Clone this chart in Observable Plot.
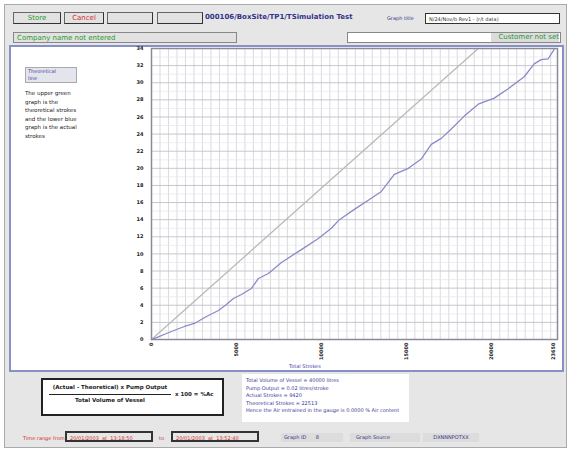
<!DOCTYPE html>
<html><head><meta charset="utf-8">
<script src="https://cdn.jsdelivr.net/npm/d3@7"></script>
<script src="https://cdn.jsdelivr.net/npm/@observablehq/plot@0.6"></script>
<style>
body{margin:0;width:571px;height:450px;background:#fff;font-family:"DejaVu Sans",sans-serif;overflow:hidden}
#win{position:absolute;left:4px;top:4px;width:561px;height:442px;background:#e6e6e6;border:1px solid #aaa}
.abs{position:absolute;box-sizing:border-box;white-space:nowrap}
.btn{background:#e2e2e2;border:1px solid #666;border-right-color:#333;border-bottom-color:#333;font-size:7px;text-align:center;line-height:11px}
.box{border:1px solid #888;font-size:7px;line-height:10px;padding-left:3px}
#main{left:4px;top:40px;width:555px;height:327px;background:#fff;border:2px solid #8890c8}
#chart{position:absolute;left:112px;top:-1px}
#chart svg{overflow:visible}
.info{font-size:5px;line-height:7.5px;color:#3a3a9a}
</style></head><body>
<div id="win">
  <div class="abs btn" style="left:8px;top:7px;width:48px;height:12px;color:#2a9a2a">Store</div>
  <div class="abs btn" style="left:59px;top:7px;width:40px;height:12px;color:#d03030">Cancel</div>
  <div class="abs btn" style="left:102px;top:7px;width:46px;height:12px"></div>
  <div class="abs btn" style="left:152px;top:7px;width:46px;height:12px"></div>
  <div class="abs" style="left:200px;top:8px;font-size:7px;font-weight:bold;color:#33338a">000106/BoxSite/TP1/TSimulation Test</div>
  <div class="abs" style="left:382px;top:10px;font-size:5px;color:#333388">Graph title</div>
  <div class="abs box" style="left:420px;top:8px;width:135px;height:11px;background:#fff;border-color:#333;font-size:5px;color:#333">N/24/Nov/b Rev1 - (r/t data)</div>
  <div class="abs box" style="left:8px;top:27px;width:224px;height:11px;color:#2a9a2a;background:#e2e2e2">Company name not entered</div>
  <div class="abs box" style="left:342px;top:27px;width:214px;height:11px;background:#fff"></div>
  <div class="abs" style="left:486px;top:28px;width:68px;height:9px;background:#dcdcdc;color:#2a9a2a;font-size:7px;line-height:9px;text-align:right">Customer not set</div>
  <div id="main" class="abs">
    <div class="abs" style="left:14px;top:20px;width:52px;height:16px;background:#e4e4ec;border:1px solid #aaa;font-size:5px;line-height:7px;color:#4444aa;padding-left:2px;white-space:normal">Theoretical<br>line</div>
    <div class="abs" style="left:14px;top:42px;width:62px;font-size:5.5px;line-height:8.5px;color:#222;white-space:normal">The upper green graph is the theoretical strokes and the lower blue graph is the actual strokes</div>
    <div id="chart"></div>
    <div class="abs" style="left:278px;top:316px;font-size:5px;color:#4444aa">Total Strokes</div>
  </div>
  <div class="abs" style="left:36px;top:373px;width:183px;height:38px;background:#fff;border:2px solid #222"></div>
  <div class="abs" style="left:44px;top:379px;width:122px;font-size:5.5px;font-weight:bold;text-align:center;color:#222">(Actual - Theoretical) x Pump Output</div>
  <div class="abs" style="left:44px;top:389px;width:122px;height:0;border-top:1px solid #222"></div>
  <div class="abs" style="left:44px;top:392px;width:122px;font-size:5.5px;font-weight:bold;text-align:center;color:#222">Total Volume of Vessel</div>
  <div class="abs" style="left:170px;top:386px;font-size:5.5px;font-weight:bold;color:#222">x 100 = %Ac</div>
  <div class="abs info" style="left:237px;top:369px;width:167px;height:48px;background:#fff;padding:3px 4px">Total Volume of Vessel = 40000 litres<br>Pump Output = 0.02 litres/stroke<br>Actual Strokes = 9420<br>Theoretical Strokes = 22513<br>Hence the Air entrained in the gauge is 0.0000 % Air content</div>
  <div class="abs" style="left:18px;top:430px;font-size:5px;color:#d03030">Time range from</div>
  <div class="abs box" style="left:60px;top:426px;width:88px;height:11px;border:2px solid #333;font-size:5px;color:#d03030">20/01/2003 &nbsp;at &nbsp;13:18:50</div>
  <div class="abs" style="left:154px;top:430px;font-size:5px;color:#d03030">to</div>
  <div class="abs box" style="left:166px;top:426px;width:88px;height:11px;border:2px solid #333;font-size:5px;color:#d03030">20/01/2003 &nbsp;at &nbsp;13:52:40</div>
  <div class="abs" style="left:276px;top:428px;width:62px;height:9px;background:#dcdcdc;font-size:5px;line-height:9px;color:#333388;padding-left:3px">Graph ID &nbsp;&nbsp;&nbsp;&nbsp; 8</div>
  <div class="abs" style="left:345px;top:428px;width:70px;height:9px;background:#dcdcdc;font-size:5px;line-height:9px;color:#333388;padding-left:6px">Graph Source</div>
  <div class="abs" style="left:418px;top:428px;width:56px;height:9px;background:#dcdcdc;font-size:5px;line-height:9px;color:#333388;text-align:center">DXNNNPOTXX</div>
</div>
<script>
const actualStrokes = [0,294,882,1470,1941,2529,3235,3941,4412,4823,5294,5882,6294,6882,7647,8823,9823,10588,11059,11941,12941,13529,14294,15118,15882,16470,17058,17647,18411,19235,20176,21000,21941,22529,22941,23353,23706];
const actualValues  = [0,0.23,0.70,1.17,1.52,1.87,2.69,3.39,4.09,4.79,5.26,5.96,7.13,7.71,9.0,10.5,11.8,13.0,14.0,15.2,16.5,17.3,19.3,20.0,21.1,22.8,23.5,24.6,26.1,27.5,28.2,29.3,30.7,32.2,32.7,32.8,33.9];
const theoStrokes = [0,19235];
const theoValues = [0,34];
const xTicks = [0,5000,10000,15000,20000,23650];
const yTicks = d3.range(0,35,2);

const actual = actualStrokes.map((x,i)=>({x, y: actualValues[i]}));
const theo = theoStrokes.map((x,i)=>({x, y: theoValues[i]}));

const chart = Plot.plot({
  width: 438, height: 325,
  marginLeft: 28, marginRight: 4, marginTop: 2, marginBottom: 32,
  style: {fontFamily: "DejaVu Sans, sans-serif", fontSize: "5px", background: "transparent", overflow: "visible"},
  x: {domain: [0, 23900], axis: null},
  y: {domain: [0, 34], axis: null},
  marks: [
    Plot.ruleX(d3.range(0, 23900, 500), {stroke: "#d0d0d8", strokeWidth: 0.8}),
    Plot.ruleY(d3.range(1, 34, 2), {stroke: "#e6e6ea", strokeWidth: 0.7}),
    Plot.ruleY(yTicks, {stroke: "#c0c0c8", strokeWidth: 0.9}),
    Plot.line(theo, {x: "x", y: "y", stroke: "#b4bcb4", strokeWidth: 1.3}),
    Plot.line(actual, {x: "x", y: "y", stroke: "#8a8ac8", strokeWidth: 1.3}),
    Plot.frame({stroke: "#8a8a96", strokeWidth: 1.5}),
    Plot.axisY({ticks: yTicks, tickSize: 0, tickPadding: 8, fontWeight: "bold", fill: "#222", label: null}),
    Plot.axisX({ticks: xTicks, tickSize: 0, tickPadding: 3, tickRotate: -90, fontWeight: "bold", fill: "#222", label: null, tickFormat: d => String(d)})
  ]
});
document.getElementById("chart").appendChild(chart);
</script>
</body></html>
